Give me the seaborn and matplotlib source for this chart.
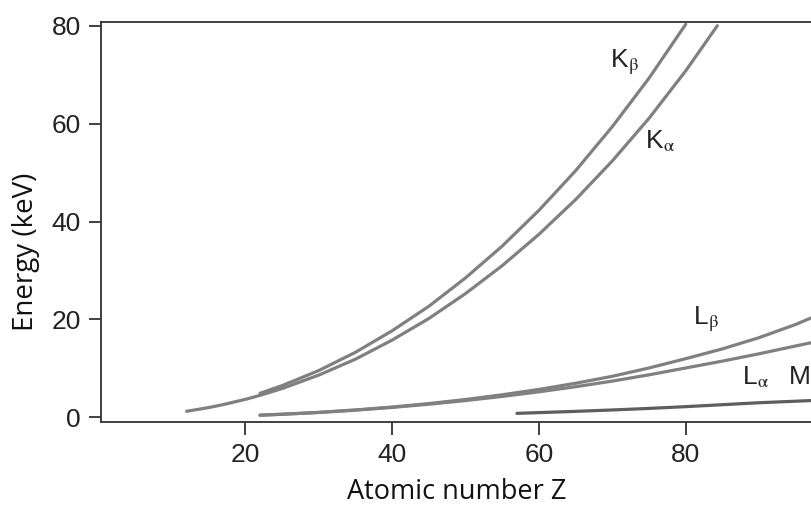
"""
Characteristic X-ray line energies vs atomic number
Output: out.png
"""

import matplotlib.pyplot as plt
import numpy as np
import pandas as pd
import seaborn as sns

# Line energies (keV)
kalpha_z = [12, 15, 17, 20, 22, 25, 30, 35, 40, 45, 50, 55, 60, 65, 70, 75, 80, 84.3]
kalpha_e = [1.25, 2.01, 2.62, 3.69, 4.51, 5.90, 8.64, 11.9, 15.8, 20.2, 25.3, 31.0, 37.4,
            44.5, 52.4, 61.1, 70.8, 80.0]

kbeta_z = [22, 25, 30, 35, 40, 45, 50, 55, 60, 65, 70, 75, 80]
kbeta_e = [4.93, 6.49, 9.57, 13.3, 17.7, 22.7, 28.5, 35.0, 42.3, 50.4, 59.4, 69.3, 80.3]

lalpha_z = [22, 25, 30, 35, 40, 45, 50, 55, 60, 65, 70, 75, 80, 85, 90, 95, 97.2]
lalpha_e = [0.45, 0.64, 1.01, 1.48, 2.04, 2.70, 3.44, 4.29, 5.23, 6.27, 7.42, 8.70,
            10.1, 11.5, 13.0, 14.6, 15.3]

lbeta_z = [22, 25, 30, 35, 40, 45, 50, 55, 60, 65, 70, 75, 80, 85, 90, 95, 97.2]
lbeta_e = [0.46, 0.65, 1.03, 1.53, 2.12, 2.83, 3.66, 4.62, 5.72, 6.98, 8.40, 10.1,
           12.0, 14.0, 16.3, 19.0, 20.4]

malpha_z = [57, 60, 65, 70, 75, 80, 85, 90, 97.2]
malpha_e = [0.83, 0.98, 1.24, 1.52, 1.84, 2.20, 2.60, 3.00, 3.45]

x_ticks = [20, 40, 60, 80]
y_ticks = [0, 20, 40, 60, 80]

series = {
    'Ka': (kalpha_z, kalpha_e),
    'Kb': (kbeta_z, kbeta_e),
    'La': (lalpha_z, lalpha_e),
    'Lb': (lbeta_z, lbeta_e),
    'Ma': (malpha_z, malpha_e),
}
df = pd.concat([pd.DataFrame({'Z': z, 'E': e, 'line': name})
                for name, (z, e) in series.items()], ignore_index=True)

sns.set_style('ticks')
plt.rcParams['font.family'] = ['Liberation Sans', 'DejaVu Sans']
plt.rcParams['mathtext.fontset'] = 'stix'

fig = plt.figure(figsize=(8.12, 5.07), dpi=100)
ax = fig.add_axes([0.125, 0.168, 0.875, 0.788])

palette = {'Ka': '#808080', 'Kb': '#808080', 'La': '#808080', 'Lb': '#808080', 'Ma': '#5e5e5e'}
sns.lineplot(data=df, x='Z', y='E', hue='line', palette=palette, estimator=None,
             sort=False, linewidth=2.3, legend=False, ax=ax)

ax.set_xlim(0.4, 97.2)
ax.set_ylim(-0.9, 80.7)
ax.set_xticks(x_ticks)
ax.set_yticks(y_ticks)
ax.tick_params(axis='both', labelsize=19, length=9, width=1.3, color='#333333',
               labelcolor='#222222', pad=6)

for side in ['left', 'top', 'bottom']:
    ax.spines[side].set_color('#333333')
    ax.spines[side].set_linewidth(1.3)
    ax.spines[side].set_visible(True)
ax.spines['right'].set_visible(False)

ax.set_xlabel('Atomic number Z', fontsize=19.5, family=['Open Sans', 'DejaVu Sans'],
              color='#111111', labelpad=8)
ax.set_ylabel('Energy (keV)', fontsize=20, family=['Open Sans', 'DejaVu Sans'],
              color='#111111')
ax.yaxis.set_label_coords(-0.086, 0.425)

# Line labels
label_kw = dict(fontsize=19, color='#222222', va='center', ha='left')
ax.text(69.7, 72.5, r'K$_{\mathrm{\beta}}$', **label_kw)
ax.text(74.5, 56.5, r'K$_{\mathrm{\alpha}}$', **label_kw)
ax.text(81.0, 20.0, r'L$_{\mathrm{\beta}}$', **label_kw)
ax.text(87.7, 8.2, r'L$_{\mathrm{\alpha}}$', **label_kw)
ax.text(93.9, 8.2, r'M$_{\mathrm{\alpha}}$', **label_kw)

fig.savefig('out.png', dpi=100, facecolor='white')
